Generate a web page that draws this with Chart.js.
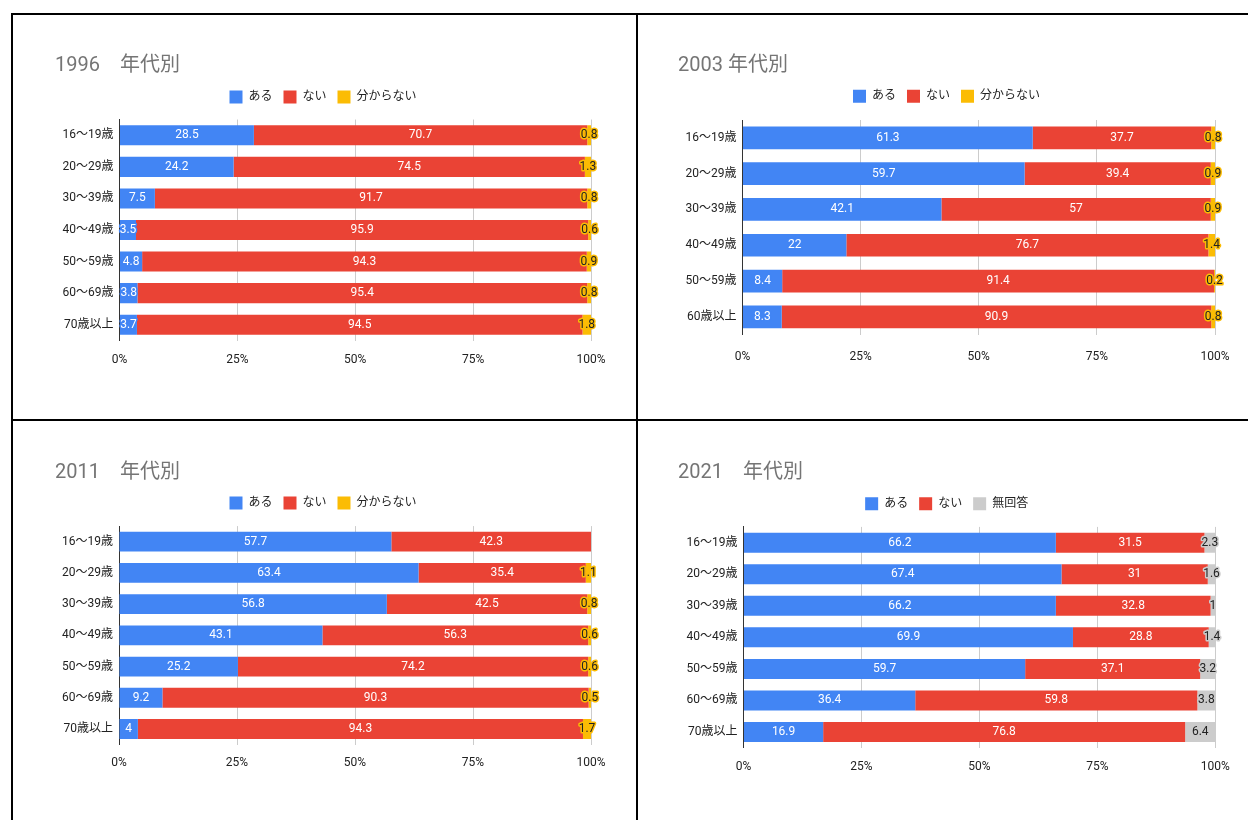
<!DOCTYPE html>
<html lang="ja">
<head>
<meta charset="utf-8">
<title>年代別</title>
<script src="https://cdn.jsdelivr.net/npm/chart.js@4.4.1/dist/chart.umd.min.js"></script>
<style>
  html, body { margin: 0; padding: 0; background: #fff; overflow: hidden; }
  body { width: 1248px; height: 820px; position: relative; }
  .line { position: absolute; background: #000; }
  canvas { position: absolute; }
</style>
</head>
<body>
<div class="line" style="left:11px;top:13px;width:1237px;height:2px"></div>
<div class="line" style="left:11px;top:419px;width:1237px;height:2px"></div>
<div class="line" style="left:11px;top:13px;width:2px;height:807px"></div>
<div class="line" style="left:636px;top:13px;width:2px;height:807px"></div>

<canvas id="c1996" width="622" height="404" style="left:13px;top:15px"></canvas>
<canvas id="c2003" width="622" height="404" style="left:638px;top:15px"></canvas>
<canvas id="c2011" width="622" height="399" style="left:13px;top:421px"></canvas>
<canvas id="c2021" width="622" height="399" style="left:638px;top:421px"></canvas>

<script>
// categories
const ages7 = ['16〜19歳', '20〜29歳', '30〜39歳', '40〜49歳', '50〜59歳', '60〜69歳', '70歳以上'];
const ages2003 = ['16〜19歳', '20〜29歳', '30〜39歳', '40〜49歳', '50〜59歳', '60歳以上'];
const names3 = ['ある', 'ない', '分からない'];
const names2021 = ['ある', 'ない', '無回答'];
const xTicks = [0, 25, 50, 75, 100];

// values (%)
const aru1996 = [28.5, 24.2, 7.5, 3.5, 4.8, 3.8, 3.7];
const nai1996 = [70.7, 74.5, 91.7, 95.9, 94.3, 95.4, 94.5];
const wakaranai1996 = [0.8, 1.3, 0.8, 0.6, 0.9, 0.8, 1.8];

const aru2003 = [61.3, 59.7, 42.1, 22, 8.4, 8.3];
const nai2003 = [37.7, 39.4, 57, 76.7, 91.4, 90.9];
const wakaranai2003 = [0.8, 0.9, 0.9, 1.4, 0.2, 0.8];

const aru2011 = [57.7, 63.4, 56.8, 43.1, 25.2, 9.2, 4];
const nai2011 = [42.3, 35.4, 42.5, 56.3, 74.2, 90.3, 94.3];
const wakaranai2011 = [null, 1.1, 0.8, 0.6, 0.6, 0.5, 1.7];

const aru2021 = [66.2, 67.4, 66.2, 69.9, 59.7, 36.4, 16.9];
const nai2021 = [31.5, 31, 32.8, 28.8, 37.1, 59.8, 76.8];
const mukaitou2021 = [2.3, 1.6, 1, 1.4, 3.2, 3.8, 6.4];

const FONT = 'Roboto, "Noto Sans CJK JP", sans-serif';
const BLUE = '#4285F4', RED = '#EA4335', YELLOW = '#FBBC04', GRAY = '#CCCCCC';
const LEGEND_PAD = 11;

Chart.defaults.font.family = FONT;
Chart.defaults.color = '#222';

// value labels, google-sheets style (text with a halo of the bar colour)
const barLabels = {
  id: 'barLabels',
  afterDatasetsDraw(chart) {
    const ctx = chart.ctx;
    ctx.save();
    ctx.font = '12px ' + FONT;
    ctx.textAlign = 'center';
    ctx.textBaseline = 'middle';
    ctx.lineJoin = 'round';
    ctx.lineWidth = 3;
    chart.data.datasets.forEach((ds, i) => {
      chart.getDatasetMeta(i).data.forEach((bar, j) => {
        const v = ds.values[j];
        if (v == null) return;
        const p = bar.getProps(['x', 'y', 'base'], true);
        const x = (p.x + p.base) / 2;
        ctx.strokeStyle = ds.backgroundColor;
        ctx.strokeText(String(v), x, p.y);
        ctx.fillStyle = ds.ink;
        ctx.fillText(String(v), x, p.y);
      });
    });
    ctx.restore();
  }
};

function makeChart(id, title, labels, names, series, fills, inks, box) {
  const totals = labels.map((_, j) => series.reduce((s, arr) => s + (arr[j] || 0), 0));
  const datasets = series.map((arr, i) => ({
    label: names[i],
    data: arr.map((v, j) => v == null ? null : v / totals[j] * 100),
    values: arr,
    ink: inks[i],
    backgroundColor: fills[i],
    borderWidth: 0,
    barPercentage: 0.635,
    categoryPercentage: 1
  }));

  const H = document.getElementById(id).height;
  const W = document.getElementById(id).width;
  const legendTop = box.legendC - LEGEND_PAD - 6.5;
  const gap = box.plotTop - legendTop - (23 + LEGEND_PAD);

  const legendGap = {
    id: 'legendGap',
    beforeLayout(chart) {
      const lg = chart.legend;
      if (lg && !lg._gapped) {
        const fit = lg.fit;
        lg.fit = function () { fit.call(this); this.height += gap; };
        lg._gapped = true;
      }
    }
  };

  return new Chart(document.getElementById(id), {
    type: 'bar',
    data: { labels, datasets },
    plugins: [barLabels, legendGap],
    options: {
      indexAxis: 'y',
      responsive: false,
      animation: false,
      layout: { padding: { top: 0, left: box.titleX, right: W - box.plotRight, bottom: H - box.plotBottom - 40 } },
      plugins: {
        title: {
          display: true, text: title, align: 'start', color: '#757575',
          font: { size: 20, weight: 'normal', family: FONT },
          padding: { top: box.titleC - 12, bottom: Math.max(0, legendTop - box.titleC - 12) }
        },
        legend: {
          position: 'top',
          labels: { boxWidth: 13, boxHeight: 13, padding: LEGEND_PAD, color: '#222', font: { size: 12, family: FONT } }
        },
        tooltip: { enabled: false }
      },
      scales: {
        x: {
          stacked: true, min: 0, max: 100,
          afterBuildTicks(scale) { scale.ticks = xTicks.map(v => ({ value: v })); },
          afterFit(scale) { scale.height = 40; },
          ticks: { callback: v => v + '%', padding: box.tickC - box.plotBottom - 7.2, maxRotation: 0, color: '#222', font: { size: 12 } },
          grid: { color: '#cccccc', lineWidth: 1, drawTicks: false },
          border: { display: false }
        },
        y: {
          stacked: true,
          afterFit(scale) { scale.width = box.plotLeft - box.titleX; },
          ticks: { padding: 6, autoSkip: false, color: '#222', font: { size: 12 } },
          grid: { display: false, drawTicks: false },
          border: { display: true, color: '#333333', width: 1 }
        }
      }
    }
  });
}

makeChart('c1996', '1996　年代別', ages7, names3,
  [aru1996, nai1996, wakaranai1996], [BLUE, RED, YELLOW], ['#fff', '#fff', '#222'],
  { titleX: 42, titleC: 51, legendC: 82, plotTop: 104.5, plotBottom: 325.5, tickC: 345, plotLeft: 106.5, plotRight: 578 });

makeChart('c2003', '2003 年代別', ages2003, names3,
  [aru2003, nai2003, wakaranai2003], [BLUE, RED, YELLOW], ['#fff', '#fff', '#222'],
  { titleX: 40, titleC: 51, legendC: 81.3, plotTop: 105, plotBottom: 319.7, tickC: 341.7, plotLeft: 104.5, plotRight: 577 });

makeChart('c2011', '2011　年代別', ages7, names3,
  [aru2011, nai2011, wakaranai2011], [BLUE, RED, YELLOW], ['#fff', '#fff', '#222'],
  { titleX: 42, titleC: 52, legendC: 82, plotTop: 105.1, plotBottom: 323.6, tickC: 342.3, plotLeft: 106, plotRight: 578 });

makeChart('c2021', '2021　年代別', ages7, names2021,
  [aru2021, nai2021, mukaitou2021], [BLUE, RED, GRAY], ['#fff', '#fff', '#222'],
  { titleX: 40, titleC: 52, legendC: 82.7, plotTop: 105.9, plotBottom: 326.8, tickC: 346, plotLeft: 105.5, plotRight: 577.3 });
</script>
</body>
</html>
